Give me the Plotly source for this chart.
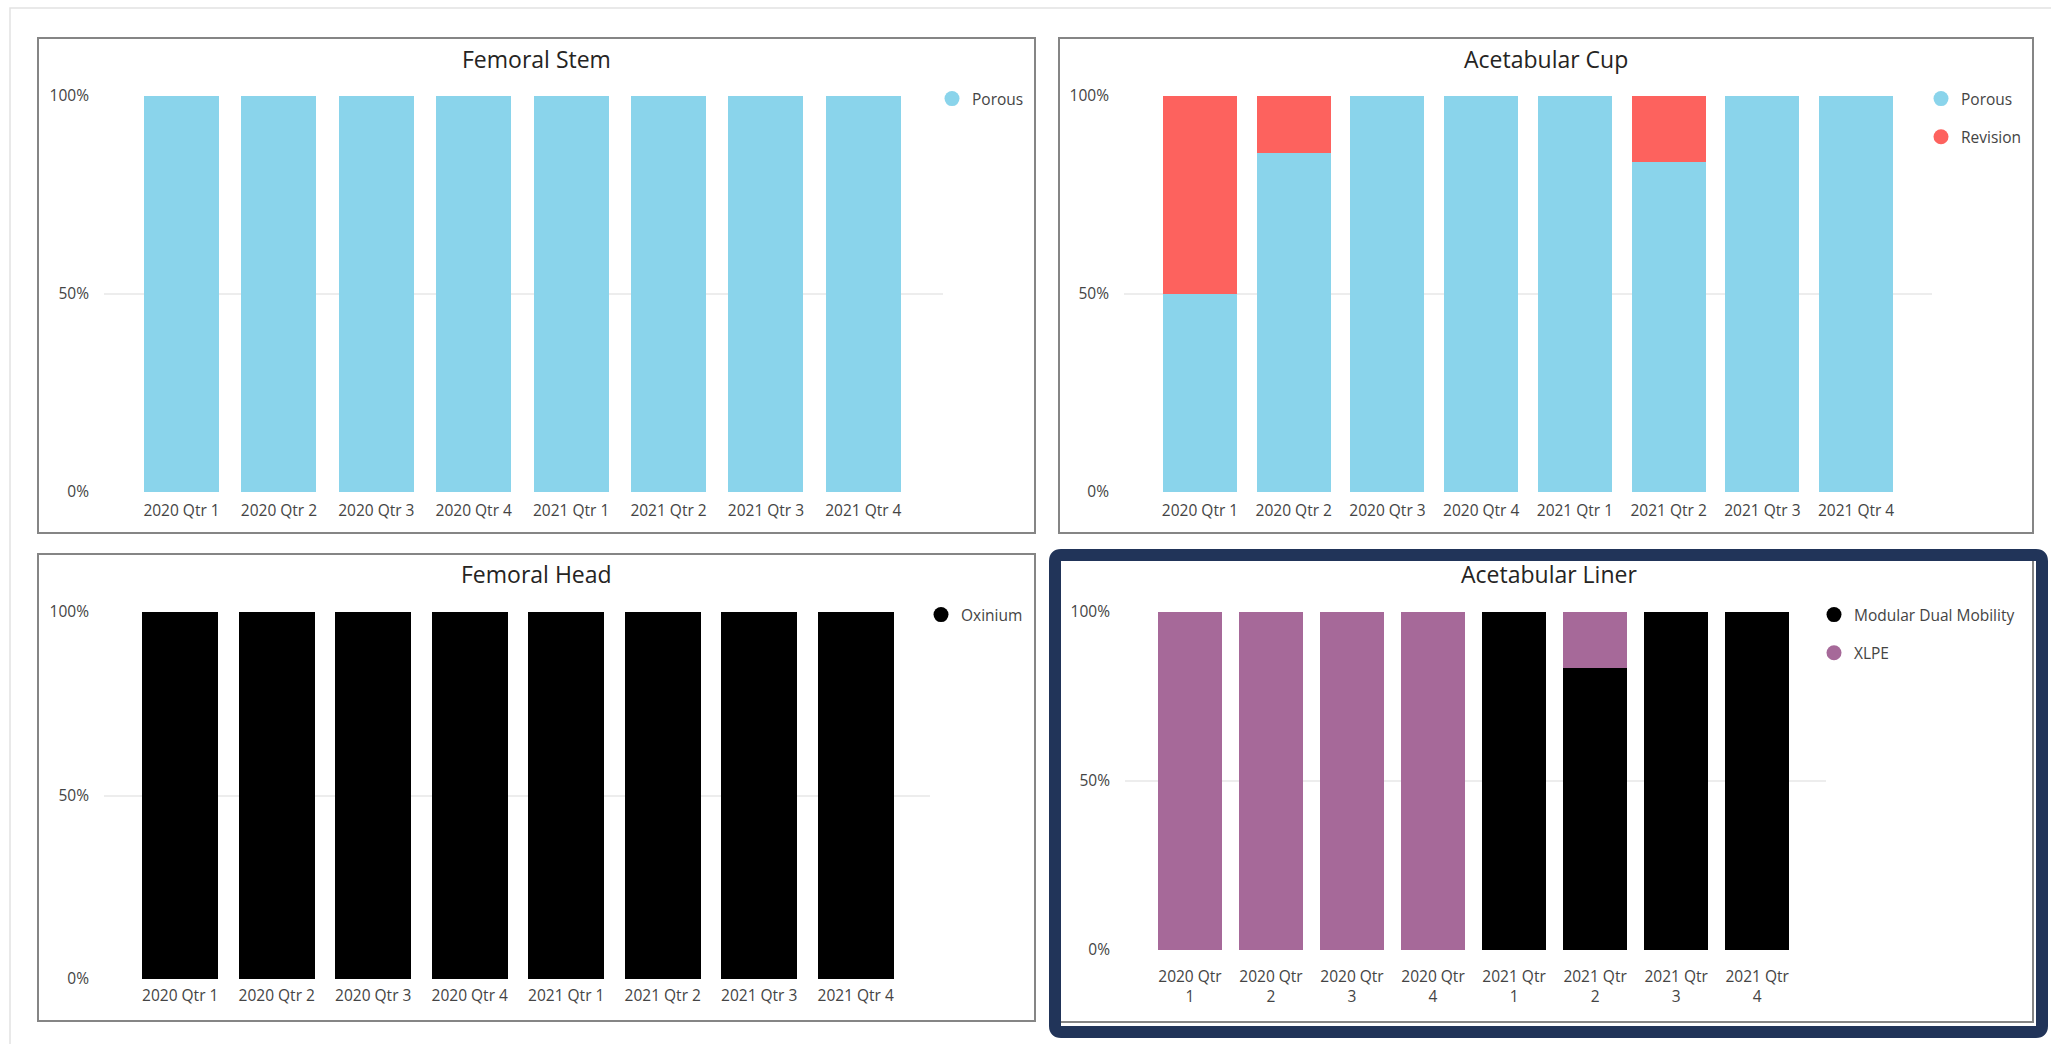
import plotly.graph_objects as go

W, H = 2051, 1044

# ---------------- data ----------------
quarters = ["2020 Qtr 1", "2020 Qtr 2", "2020 Qtr 3", "2020 Qtr 4",
            "2021 Qtr 1", "2021 Qtr 2", "2021 Qtr 3", "2021 Qtr 4"]

stem_porous = [100, 100, 100, 100, 100, 100, 100, 100]

cup_porous = [50.0, 85.7, 100, 100, 100, 83.3, 100, 100]
cup_revision = [50.0, 14.3, 0, 0, 0, 16.7, 0, 0]

head_oxinium = [100, 100, 100, 100, 100, 100, 100, 100]

liner_mdm = [0, 0, 0, 0, 100, 83.3, 100, 100]
liner_xlpe = [100, 100, 100, 100, 0, 16.7, 0, 0]

titles = ["Femoral Stem", "Acetabular Cup", "Femoral Head", "Acetabular Liner"]
ytick_vals = [0, 50, 100]
ytick_text = ["0%", "50%", "100%"]

# ---------------- style ----------------
BLUE = "#8AD4EB"
RED = "#FD625E"
PURPLE = "#A66999"
BLACK = "#000000"
NAVY = "#213459"
FONT = "Open Sans"
TXT = "#444444"
TITLE_C = "#252423"
GRID = "#ededed"
FS = 15.5


def px(x):
    return x / W


def py(y):
    return 1 - y / H


fig = go.Figure()

# panel geometry (pixels): plot area x0,x1,y_top(100%),y_bottom(0%), x range, bar width
panels = {
    1: dict(x0=104, x1=943, yt=96, yb=492, rng=[-0.796, 7.818], bw=0.77, stand=7),
    2: dict(x0=1124, x1=1932, yt=96, yb=492, rng=[-0.811, 7.81], bw=0.79, stand=7),
    3: dict(x0=104, x1=930, yt=612, yb=979, rng=[-0.79, 7.77], bw=0.79, stand=5),
    4: dict(x0=1125, x1=1826, yt=612, yb=950, rng=[-0.802, 7.85], bw=0.79, stand=15),
}

series = {
    1: [("Porous", stem_porous, BLUE)],
    2: [("Porous", cup_porous, BLUE), ("Revision", cup_revision, RED)],
    3: [("Oxinium", head_oxinium, BLACK)],
    4: [("Modular Dual Mobility", liner_mdm, BLACK), ("XLPE", liner_xlpe, PURPLE)],
}

legend_pos = {1: (952, 95), 2: (1941, 95), 3: (941, 611), 4: (1834, 611)}

for i in range(1, 5):
    p = panels[i]
    xa = "x" if i == 1 else f"x{i}"
    ya = "y" if i == 1 else f"y{i}"
    lg = "legend" if i == 1 else f"legend{i}"
    for name, vals, col in series[i]:
        fig.add_trace(go.Bar(x=quarters, y=vals, name=name, marker_color=col,
                             marker_line_width=0, width=p["bw"], showlegend=False,
                             xaxis=xa, yaxis=ya))
    for k, (name, vals, col) in enumerate(series[i]):
        fig.add_trace(go.Scatter(x=[None], y=[None], mode="markers", name=name,
                                 marker=dict(size=15, color=col, symbol="circle"),
                                 legendgroup=f"g{i}_{k}",
                                 showlegend=True, legend=lg, xaxis=xa, yaxis=ya))

layout = dict(
    width=W, height=H,
    margin=dict(l=0, r=0, t=0, b=0, pad=0, autoexpand=False),
    paper_bgcolor="white", plot_bgcolor="white",
    barmode="stack",
    font=dict(family=FONT, size=FS, color=TXT),
    showlegend=True,
)

for i in range(1, 5):
    p = panels[i]
    xk = "xaxis" if i == 1 else f"xaxis{i}"
    yk = "yaxis" if i == 1 else f"yaxis{i}"
    ya_ref = "y" if i == 1 else f"y{i}"
    xa_ref = "x" if i == 1 else f"x{i}"
    if i == 4:
        ttext = [q.replace("Qtr ", "Qtr<br>") for q in quarters]
    else:
        ttext = quarters
    layout[xk] = dict(domain=[px(p["x0"]), px(p["x1"])], anchor=ya_ref,
                      type="category", categoryorder="array", categoryarray=quarters,
                      tickvals=quarters, ticktext=ttext,
                      range=p["rng"], showgrid=False, zeroline=False, showline=False,
                      ticks="", ticklabelstandoff=p["stand"], automargin=False,
                      tickfont=dict(family=FONT, size=FS, color=TXT), fixedrange=True)
    layout[yk] = dict(domain=[py(p["yb"]), py(p["yt"])], anchor=xa_ref,
                      range=[0, 100], tickvals=ytick_vals, ticktext=ytick_text,
                      showgrid=True, gridcolor=GRID, gridwidth=1.5, zeroline=False,
                      showline=False, ticks="", ticklabelstandoff=14, automargin=False,
                      tickfont=dict(family=FONT, size=FS, color=TXT), fixedrange=True)
    lk = "legend" if i == 1 else f"legend{i}"
    mx, my = legend_pos[i]
    layout[lk] = dict(x=px(mx - 20), y=py(my - 13), xanchor="left", yanchor="top",
                      xref="paper", yref="paper", bgcolor="rgba(0,0,0,0)",
                      borderwidth=0, traceorder="grouped", tracegroupgap=15,
                      itemwidth=30,
                      font=dict(family=FONT, size=FS, color=TXT))

fig.update_layout(**layout)

# titles
title_pos = [((38 + 1035) / 2, 59), ((1059 + 2033) / 2, 59),
             ((38 + 1035) / 2, 574), ((1049 + 2048) / 2, 574)]
for t, (tx, ty) in zip(titles, title_pos):
    fig.add_annotation(text=t, x=px(tx), y=py(ty), xref="paper", yref="paper",
                       showarrow=False, xanchor="center", yanchor="middle",
                       font=dict(family=FONT, size=23, color=TITLE_C))

# page border and panel frames
shapes = []
shapes.append(dict(type="rect", xref="paper", yref="paper",
                   x0=px(10), x1=px(2100), y0=py(8), y1=py(1100),
                   line=dict(color="#e2e2e2", width=1.5), layer="below"))
for (x0, y0, x1, y1) in [(38, 38, 1035, 533), (1059, 38, 2033, 533),
                         (38, 554, 1035, 1021), (1059, 556, 2033, 1022)]:
    shapes.append(dict(type="rect", xref="paper", yref="paper",
                       x0=px(x0), x1=px(x1), y0=py(y0), y1=py(y1),
                       line=dict(color="#858585", width=2), layer="above"))

# navy selection frame with slightly rounded corners
L, T, R, B, r = 1055, 555, 2042, 1032, 6
pts = (f"M {px(L + r)},{py(T)} L {px(R - r)},{py(T)} Q {px(R)},{py(T)} {px(R)},{py(T + r)} "
       f"L {px(R)},{py(B - r)} Q {px(R)},{py(B)} {px(R - r)},{py(B)} "
       f"L {px(L + r)},{py(B)} Q {px(L)},{py(B)} {px(L)},{py(B - r)} "
       f"L {px(L)},{py(T + r)} Q {px(L)},{py(T)} {px(L + r)},{py(T)} Z")
shapes.append(dict(type="path", xref="paper", yref="paper", path=pts,
                   line=dict(color=NAVY, width=12), layer="above"))

fig.update_layout(shapes=shapes)

fig.write_html("out.html", include_plotlyjs=True, config={"displayModeBar": False})
